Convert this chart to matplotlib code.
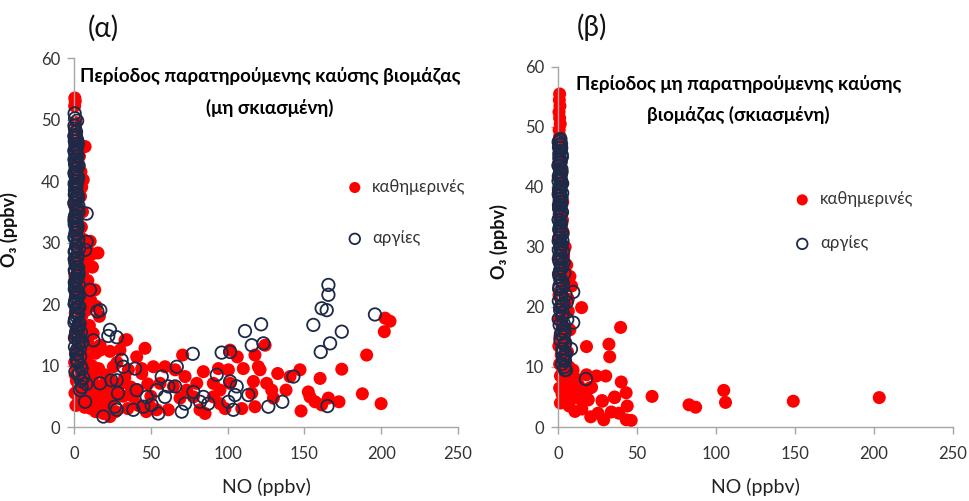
import numpy as np
import matplotlib
matplotlib.use('Agg')
import matplotlib.pyplot as plt

plt.rcParams['font.family'] = ['Lato', 'DejaVu Sans']

# ---- (α) observed biomass burning period, weekdays ----
a_wd_no = [0.5, 0.8, 0.4, 1.2, 0.6, 1.5, 0.9, 2.5, 1.8, 3.5, 0.7, 2.8, 4.5, 1.2, 3.8, 0.5, 5.0, 2.2, 4.2, 1.0,
           0.3, 3.0, 5.5, 1.6, 2.6, 4.8, 0.8, 3.4, 6.0, 8.5, 10.5, 2.0, 9.5, 11.0, 4.0, 1.2, 7.0, 12.0, 3.0, 5.5,
           0.6, 9.0, 2.4, 13.5, 6.5, 1.0, 4.5, 11.0, 14.5, 2.0, 8.0, 0.8, 16.5, 5.0, 3.2, 10.0, 1.5, 12.5, 7.0, 0.5,
           4.0, 17.0, 9.5, 2.5, 6.0, 1.0, 14.0, 3.5, 8.0, 0.4, 5.5, 11.5, 2.0, 16.0, 7.5, 0.8, 4.0, 20.0, 12.0, 1.5,
           9.0, 3.0, 14.5, 18.5, 6.0, 0.6, 10.5, 22.0, 2.5, 16.0, 8.0, 13.0, 4.5, 19.0, 25.0, 1.2, 11.0, 7.0, 16.9, 22.0,
           19.1, 23.4, 14.0, 27.0, 15.6, 6.0, 7.2,
           23.4, 25.6, 21.3, 29.9, 33.2, 35.4, 40.8, 46.2, 44.1, 40.8, 38.6, 30.0, 32.0, 35.0, 28.0, 26.0, 33.0, 37.0,
           42.0, 44.0, 48.0, 50.0, 47.0, 17.0, 23.4, 34.3,
           49.5, 51.6, 53.8, 56.0, 59.2, 61.4, 64.7, 65.8, 69.0, 72.3, 70.7, 73.4, 77.7, 79.9, 82.0, 85.3, 84.2,
           90.7, 90.7, 94.0, 95.0, 95.0, 98.3, 101.6, 100.5, 101.6, 106.3, 109.2, 110.2, 115.7, 117.8, 116.8, 121.1,
           120.0, 117.8, 124.4, 128.7, 125.4, 129.8, 132.6, 138.0, 140.6, 147.8, 147.1, 156.9, 153.6, 152.5, 161.2,
           160.2, 165.6, 172.5, 174.3, 199.9, 187.7, 190.5, 202.0, 205.7, 202.5]
a_wd_o3 = [53.5, 53.0, 52.2, 49.5, 48.0, 47.2, 46.0, 45.5, 44.5, 44.0, 43.0, 42.2, 41.5, 41.0, 40.2, 39.5, 39.0, 38.5, 37.5, 37.0,
           36.0, 35.5, 35.0, 34.0, 33.0, 32.5, 31.5, 31.0, 30.5, 30.0, 30.2, 29.5, 28.5, 28.0, 28.0, 27.0, 26.5, 26.0, 25.5, 25.0,
           24.5, 23.8, 23.0, 22.3, 22.0, 21.5, 21.0, 20.5, 19.6, 20.0, 19.0, 18.5, 18.0, 18.0, 17.0, 16.5, 16.0, 15.2, 15.5, 14.5,
           14.0, 13.3, 13.5, 13.0, 12.5, 12.0, 12.0, 11.5, 11.0, 10.5, 10.3, 10.0, 9.5, 9.5, 9.0, 8.5, 8.0, 8.5, 8.0, 7.5,
           7.0, 6.5, 6.5, 6.8, 6.0, 5.5, 5.5, 6.0, 5.0, 5.0, 4.5, 4.0, 4.0, 4.2, 4.5, 3.5, 3.0, 3.2, 3.3, 3.0,
           2.2, 1.7, 2.5, 2.5, 28.3, 40.2, 45.6,
           7.6, 9.8, 5.5, 12.5, 14.1, 9.3, 11.4, 12.8, 8.7, 6.0, 4.9, 7.0, 5.0, 3.0, 10.5, 6.0, 8.0, 6.5,
           3.5, 9.5, 7.0, 5.0, 2.5, 12.5, 12.3, 14.2,
           3.3, 9.8, 2.8, 7.1, 9.8, 2.8, 6.6, 9.3, 4.7, 8.2, 11.7, 6.0, 4.9, 7.1, 2.8, 2.2, 9.0,
           7.1, 4.9, 9.5, 6.0, 3.8, 3.0, 12.5, 9.3, 7.1, 11.4, 3.0, 9.5, 5.5, 3.3, 7.4, 9.3,
           9.8, 11.7, 13.3, 6.0, 7.1, 4.7, 8.7, 6.0, 8.2, 2.6, 9.3, 4.1, 4.9, 5.7, 3.6,
           7.9, 4.7, 4.1, 9.4, 3.8, 5.4, 11.7, 15.5, 17.2, 17.7]

# ---- (α) holidays ----
a_hd_no = [0.4, 0.7, 0.3, 1.0, 0.5, 1.5, 0.8, 0.3, 1.8, 1.1, 0.6, 2.2, 0.4, 1.4, 0.9, 2.5, 0.5, 1.6, 8.2, 1.0,
           0.3, 2.0, 1.2, 0.6, 2.8, 8.2, 7.2, 1.5, 0.4, 2.2, 1.0, 0.5, 3.0, 1.7, 0.8, 2.5, 10.4, 1.2, 0.4, 3.5,
           15.2, 17.1, 2.0, 0.9, 2.8, 1.4, 0.6, 12.6, 3.2, 1.8, 4.0, 2.5, 5.0, 3.5, 6.0, 4.5, 8.0, 16.9, 7.2, 3.9,
           2.0, 0.6, 1.4, 2.6, 0.3, 1.8, 3.0, 0.9, 2.2, 1.1, 0.5, 2.8, 1.6, 0.4, 2.4, 1.0, 3.2, 0.7, 1.9, 2.7,
           0.5, 1.3, 3.4, 0.8, 2.1, 1.5, 0.3, 2.9, 1.2, 3.6, 0.6, 2.3, 1.7, 4.2, 0.9, 2.6, 5.0, 1.4, 3.8, 2.0,
           23.4, 22.3, 27.8, 24.3, 19.1, 31.0, 32.1, 27.8, 28.6, 26.6, 27.8, 39.7, 38.6, 40.8, 47.3, 45.1,
           57.1, 53.8, 59.2, 54.9, 50.5, 61.4, 66.9, 65.8, 70.1, 72.3, 77.3, 77.7, 82.0, 87.4, 84.2, 92.9,
           96.1, 101.6, 101.6, 105.9, 104.8, 103.7, 100.5, 111.3, 115.7, 121.8, 123.3, 113.5, 126.5, 142.8, 135.6,
           155.8, 161.2, 164.5, 165.6, 165.6, 166.7, 160.6, 174.3, 195.9, 165.0]
a_hd_o3 = [51.0, 50.2, 49.0, 47.5, 46.5, 45.5, 44.5, 43.5, 43.0, 42.0, 41.0, 40.5, 39.5, 38.8, 38.0, 37.2, 36.5, 35.5, 34.7, 34.5,
           33.5, 33.0, 32.0, 31.0, 30.5, 30.1, 28.8, 29.5, 28.5, 27.5, 26.5, 25.5, 25.0, 24.0, 23.0, 22.0, 22.3, 21.0, 20.0, 19.5,
           18.8, 19.0, 18.5, 17.5, 16.5, 15.5, 14.5, 14.1, 13.5, 12.5, 11.5, 10.5, 9.5, 8.8, 8.0, 7.5, 7.0, 7.1, 4.1, 6.0,
           49.8, 48.5, 47.0, 46.0, 45.0, 44.0, 42.5, 41.5, 40.0, 39.0, 37.8, 36.0, 35.0, 34.0, 32.5, 31.5, 29.0, 27.0, 26.0, 24.5,
           23.5, 22.5, 21.5, 20.5, 19.5, 18.0, 17.0, 16.0, 15.0, 14.0, 13.0, 12.0, 11.0, 10.0, 9.0, 8.5, 6.5, 11.8, 12.8, 10.8,
           15.8, 14.8, 14.6, 7.6, 1.7, 10.9, 9.8, 7.6, 5.5, 3.3, 2.8, 9.5, 2.8, 6.0, 4.9, 3.3,
           8.2, 6.0, 4.9, 2.2, 3.6, 6.6, 9.8, 6.6, 2.5, 3.8, 11.9, 5.7, 4.1, 3.8, 4.9, 8.5,
           12.1, 12.2, 7.4, 6.6, 5.2, 2.8, 4.1, 15.6, 13.3, 16.7, 13.6, 5.2, 3.3, 8.2, 4.1,
           16.6, 19.3, 19.0, 23.1, 21.5, 13.6, 12.2, 15.5, 18.3, 3.4]
# low-NO holiday readings packed against the y axis
a_hd_band_no = [1.3, 0.2, 2.1, 0.9, 1.7, 0.4, 2.4, 1.2, 0.7, 1.9, 0.3, 2.6, 1.0, 1.5, 0.6, 2.3, 1.1, 0.2, 1.8, 2.9,
                0.8, 1.4, 0.5, 2.0, 1.2, 0.3, 2.5, 1.6, 0.9, 2.2, 0.4, 1.3, 2.7, 0.7, 1.9, 1.0, 3.1, 0.5, 1.7, 2.4,
                0.8, 3.3, 1.5, 2.8, 0.6, 3.6, 2.0, 4.5, 3.0, 5.5]
a_hd_band_o3 = [48.0, 47.3, 46.6, 45.9, 45.2, 44.8, 44.1, 43.4, 42.7, 42.0, 41.3, 40.6, 39.9, 39.2, 38.5, 37.8, 37.1, 36.4, 35.7, 35.0,
                34.3, 33.6, 32.9, 32.2, 31.5, 30.8, 30.1, 29.4, 28.7, 28.0, 27.3, 26.6, 25.9, 25.2, 24.5, 23.8, 23.1, 22.4, 21.7, 21.0,
                20.3, 19.6, 18.9, 18.2, 17.5, 16.8, 16.1, 15.4, 14.7, 13.8]

# ---- (β) non-observed biomass burning period, weekdays ----
b_wd_no = [1.0, 0.8, 1.2, 0.6, 1.0, 1.4, 0.7, 1.1, 0.5, 1.6, 0.9, 1.3, 0.4, 2.0, 0.8, 2.5, 1.2, 0.5, 3.0, 1.5,
           0.7, 2.8, 1.0, 3.2, 0.6, 2.2, 4.5, 1.4, 3.5, 0.8, 5.5, 2.5, 7.5, 1.2, 4.0, 8.6, 2.0, 0.6, 6.5, 3.0,
           1.5, 6.5, 14.9, 4.5, 0.8, 2.5, 7.5, 5.0, 1.2, 3.5, 0.5, 3.3, 6.0, 2.0, 4.5, 1.0, 7.0, 3.0, 9.5, 5.5,
           1.5, 8.0, 11.5, 3.5, 6.5, 13.0, 1.0, 10.0, 4.5, 2.5, 15.5, 8.0, 5.5, 12.8, 19.0, 1.5, 10.7, 7.0, 15.0,
           18.0, 18.0, 24.3, 30.2, 20.1, 20.7, 27.8, 35.8, 28.1, 28.9, 25.3, 21.2, 19.0, 32.2, 32.7, 39.6, 40.0,
           43.1, 43.8, 43.2, 46.3, 38.5, 33.7, 35.8, 59.5, 82.9, 87.1, 104.9, 106.0, 148.9, 203.3]
b_wd_o3 = [55.5, 54.5, 53.5, 52.5, 51.5, 50.5, 49.5, 48.5, 47.5, 46.5, 45.5, 44.5, 43.5, 42.5, 41.5, 40.5, 39.5, 38.5, 37.5, 36.5,
           35.5, 34.5, 33.5, 32.5, 31.5, 30.5, 30.0, 29.5, 28.5, 27.5, 27.0, 26.5, 25.1, 25.5, 24.5, 23.5, 23.0, 22.0, 21.3, 21.0,
           20.0, 19.3, 19.9, 19.0, 18.0, 17.0, 16.2, 16.0, 15.0, 14.0, 13.5, 12.9, 12.5, 12.0, 11.0, 10.5, 10.0, 9.5, 9.5, 9.0,
           8.5, 8.0, 8.0, 7.5, 7.0, 7.0, 6.5, 6.0, 6.0, 5.5, 5.5, 5.0, 4.5, 4.8, 4.5, 4.0, 2.6, 3.5, 3.0,
           13.4, 8.7, 8.5, 8.5, 6.5, 1.7, 4.4, 4.9, 4.3, 1.2, 2.3, 6.6, 4.6, 13.8, 11.7, 16.6, 7.5,
           5.7, 3.5, 1.2, 1.1, 2.3, 2.5, 5.0, 5.1, 3.7, 3.3, 6.1, 4.1, 4.3, 4.9]

# ---- (β) holidays ----
b_hd_no = [1.5, 1.0, 2.0, 0.8, 1.5, 0.5, 2.2, 1.0, 1.8, 0.6, 1.3, 2.0, 0.8, 1.5, 0.4, 1.2, 2.0, 0.7, 1.5, 0.5,
           1.8, 1.0, 2.4, 0.6, 1.6, 0.9, 9.6, 2.0, 0.5, 5.5, 1.5, 3.0, 5.8, 9.6, 1.0, 2.5, 3.5, 1.5, 4.0, 2.8,
           8.2, 4.4, 3.5, 4.4, 2.5, 4.4, 17.6,
           0.4, 1.2, 2.4, 0.9, 1.7, 0.3, 2.6, 1.1, 0.6, 2.0, 1.4, 0.8, 2.8, 1.6, 0.5, 2.2, 1.0, 3.0, 0.7, 1.9,
           3.4, 1.3, 2.6, 0.4, 3.8, 1.8, 4.6, 2.9, 3.9, 5.0]
b_hd_o3 = [48.0, 47.0, 46.5, 45.5, 44.5, 43.5, 42.5, 41.5, 40.5, 39.5, 38.5, 37.5, 36.5, 35.5, 34.5, 33.5, 32.5, 31.5, 30.5, 29.5,
           28.5, 27.5, 26.5, 25.5, 24.5, 23.5, 22.5, 22.0, 21.0, 20.8, 20.0, 19.0, 17.9, 17.4, 17.0, 16.0, 15.0, 14.5, 13.8, 13.0,
           13.0, 12.0, 11.2, 11.0, 10.5, 9.5, 8.0,
           47.5, 46.0, 45.0, 44.0, 42.0, 41.0, 39.0, 38.0, 37.0, 36.0, 34.0, 33.0, 31.0, 30.0, 28.0, 27.0, 25.0, 24.0, 23.0, 21.5,
           20.5, 19.5, 18.5, 18.0, 16.5, 15.5, 14.0, 12.5, 10.0, 9.5]
b_hd_band_no = [1.0, 1.9, 0.6, 1.4, 2.3, 0.8, 1.7, 0.3, 2.1, 1.2, 0.5, 1.8, 2.6, 0.9, 1.5, 0.4, 2.2, 1.1, 1.9, 0.7,
                2.5, 1.3, 0.5, 2.0, 1.6, 0.9, 2.8, 1.2, 0.4, 2.3, 1.7, 3.2, 1.0, 2.6, 3.6, 1.4, 4.0, 2.2, 3.0, 4.8,
                2.5, 3.6, 4.2, 5.0, 3.2]
b_hd_band_o3 = [47.8, 47.2, 46.6, 46.0, 45.4, 44.8, 44.2, 43.6, 43.0, 42.4, 41.8, 41.2, 40.6, 40.0, 39.4, 38.8, 38.2, 37.6, 37.0, 36.4,
                35.8, 35.2, 34.6, 34.0, 33.4, 32.8, 32.2, 31.6, 31.0, 30.4, 29.8, 29.2, 28.6, 28.0, 27.4, 26.2, 25.6, 24.4, 23.2, 22.0,
                20.2, 17.2, 15.8, 12.2, 11.6]

titles = ['Περίοδος παρατηρούμενης καύσης βιομάζας\n(μη σκιασμένη)',
          'Περίοδος μη παρατηρούμενης καύσης\nβιομάζας (σκιασμένη)']
panel_tags = ['(α)', '(β)']
legend_labels = ['καθημερινές', 'αργίες']

red = '#FF0000'
navy = '#1C2A48'
spine_col = '#A6A6A6'

fig = plt.figure(figsize=(9.69, 5.01), dpi=100)
ax_a = fig.add_axes([0.0764, 0.1477, 0.3963, 0.7365])
ax_b = fig.add_axes([0.5759, 0.1477, 0.4076, 0.7186])

panels = [
    (ax_a, a_wd_no, a_wd_o3, a_hd_no + a_hd_band_no, a_hd_o3 + a_hd_band_o3),
    (ax_b, b_wd_no, b_wd_o3, b_hd_no + b_hd_band_no, b_hd_o3 + b_hd_band_o3),
]
# per panel: title x, tag position, legend anchor, legend row spacing, y-label position
title_x = [0.51, 0.457]
tag_xy = [(0.075, 1.081), (0.085, 1.111)]
leg_anchor = [(0.666, 0.695), (0.555, 0.678)]
leg_spacing = [2.12, 1.68]
ylab_pos = [(-0.146, 0.534), (-0.126, 0.515)]

for i, (ax, wx, wy, hx, hy) in enumerate(panels):
    ax.scatter(wx, wy, s=88, color=red, edgecolors='none', label=legend_labels[0],
               zorder=2, clip_on=False)
    ax.scatter(hx, hy, s=80, facecolors='none', edgecolors=navy, linewidths=1.3,
               label=legend_labels[1], zorder=3, clip_on=False)
    ax.set_xlim(0, 250)
    ax.set_ylim(0, 60)
    ax.set_xticks([0, 50, 100, 150, 200, 250])
    ax.set_yticks([0, 10, 20, 30, 40, 50, 60])
    for side in ['top', 'right']:
        ax.spines[side].set_visible(False)
    for side in ['left', 'bottom']:
        ax.spines[side].set_color(spine_col)
        ax.spines[side].set_linewidth(1.0)
    ax.tick_params(axis='both', colors=spine_col, labelcolor='#333333', labelsize=12,
                   length=5, width=1.0, direction='out')
    ax.tick_params(axis='x', pad=9)
    ax.tick_params(axis='y', pad=5)
    ax.set_xlabel('NO (ppbv)', fontsize=14, color='#222222', labelpad=11)
    ax.set_ylabel('O₃ (ppbv)', fontsize=13, fontweight='bold', color='#111111')
    ax.yaxis.set_label_coords(*ylab_pos[i])
    ax.set_title(titles[i], fontsize=13.5, fontweight='bold', x=title_x[i], y=0.826,
                 linespacing=1.9)
    ax.text(tag_xy[i][0], tag_xy[i][1], panel_tags[i], transform=ax.transAxes,
            fontsize=20, ha='center', va='center', color='#111111')
    ax.legend(loc='upper left', bbox_to_anchor=leg_anchor[i],
              frameon=False, fontsize=12, labelspacing=leg_spacing[i], handletextpad=0.05,
              borderpad=0.0, markerscale=0.85, labelcolor='#333333')

fig.savefig('out.png', dpi=100)
